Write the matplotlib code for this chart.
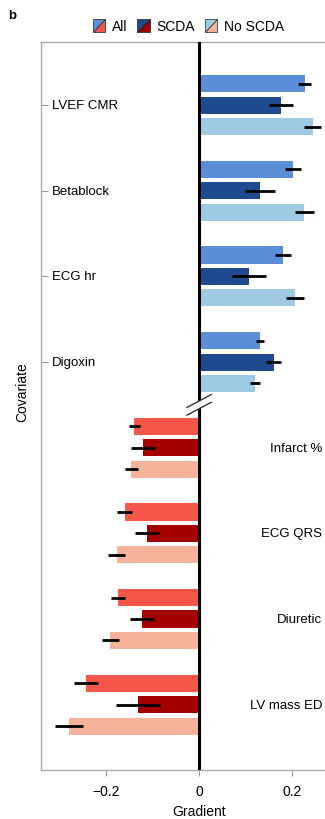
import matplotlib
matplotlib.use("Agg")
import matplotlib.pyplot as plt
import numpy as np
from matplotlib.legend_handler import HandlerBase
from matplotlib.patches import Polygon

plt.rcParams['font.family'] = ['Liberation Sans', 'DejaVu Sans']

#! --- Data --- !#
groups = ["LVEF CMR", "Betablock", "ECG hr", "Digoxin",
          "Infarct %", "ECG QRS", "Diuretic", "LV mass ED"]
series = ["All", "SCDA", "No SCDA"]

# gradient per group, one list per series
val_all = [0.227, 0.201, 0.180, 0.131, -0.139, -0.159, -0.173, -0.242]
val_scda = [0.176, 0.131, 0.107, 0.160, -0.120, -0.111, -0.123, -0.131]
val_noscda = [0.244, 0.226, 0.206, 0.120, -0.145, -0.177, -0.190, -0.279]

# error bar half-widths
err_all = [0.014, 0.017, 0.017, 0.009, 0.012, 0.016, 0.015, 0.026]
err_scda = [0.025, 0.032, 0.037, 0.016, 0.026, 0.026, 0.026, 0.048]
err_noscda = [0.018, 0.020, 0.019, 0.010, 0.014, 0.019, 0.019, 0.030]

blues = ["#5b8ed8", "#1f4a8f", "#9ecbe3"]
reds = ["#f4574a", "#a50000", "#f5b49a"]


class SplitSwatch:
    def __init__(self, c1, c2):
        self.c1, self.c2 = c1, c2


class HandlerSplit(HandlerBase):
    def create_artists(self, legend, orig_handle, xdescent, ydescent,
                       width, height, fontsize, trans):
        x0, y0 = -xdescent, -ydescent
        w = h = min(width, height)
        upper = Polygon([[x0, y0], [x0, y0 + h], [x0 + w, y0 + h]],
                        closed=True, facecolor=orig_handle.c1,
                        edgecolor="#222222", lw=0.5, transform=trans)
        lower = Polygon([[x0, y0], [x0 + w, y0], [x0 + w, y0 + h]],
                        closed=True, facecolor=orig_handle.c2,
                        edgecolor="#222222", lw=0.5, transform=trans)
        return [upper, lower]


fig = plt.figure(figsize=(3.25, 8.2), dpi=100)
ax = fig.add_axes([0.126, 0.0598, 0.874, 0.8878])

vals = [val_all, val_scda, val_noscda]
errs = [err_all, err_scda, err_noscda]
for g in range(len(groups)):
    for k in range(3):
        y = g * 4 + k
        v = vals[k][g]
        c = blues[k] if v > 0 else reds[k]
        ax.barh(y, v, height=0.8, color=c, zorder=2)
        ax.plot([v - errs[k][g], v + errs[k][g]], [y, y], color="black",
                lw=2, solid_capstyle="butt", zorder=3)

# group labels: positive on left, negative on right
for g, name in enumerate(groups):
    y = g * 4 + 1
    if vals[0][g] > 0:
        ax.text(0.039, y, name, transform=ax.get_yaxis_transform(),
                ha="left", va="center", fontsize=9.5)
    else:
        ax.text(0.99, y, name, transform=ax.get_yaxis_transform(),
                ha="right", va="center", fontsize=9.5)

ax.axvline(0, color="black", lw=2.2, zorder=4)
# axis break marks
ax.fill([-0.024, 0.024, 0.024, -0.024], [15.45, 14.85, 14.55, 15.15],
        color="white", zorder=5)
for dy in (-0.18, 0.18):
    ax.plot([-0.026, 0.026], [15.3 + dy, 14.7 + dy], color="#333333",
            lw=1.0, zorder=6, clip_on=False)

ax.set_xlim(-0.339, 0.27)
ax.set_ylim(32.05, -1.95)
ax.set_xticks([-0.2, 0, 0.2])
ax.set_xticklabels(["\u22120.2", "0", "0.2"])
ax.set_yticks([1, 5, 9, 13])
ax.set_yticklabels([])
ax.tick_params(axis="x", direction="out", length=4, color="#999999",
               labelsize=10, pad=6)
ax.tick_params(axis="y", direction="in", length=5, color="#999999")
for s in ["left", "top", "bottom"]:
    ax.spines[s].set_color("#aaaaaa")
    ax.spines[s].set_linewidth(1.0)
ax.spines["right"].set_visible(False)

ax.set_xlabel("Gradient", fontsize=10)
ax.xaxis.set_label_coords(0.339 / 0.609, -0.047)
ax.set_ylabel("Covariate", fontsize=10)
ax.yaxis.set_label_coords(-0.04, 0.52)

handles = [SplitSwatch(blues[i], reds[i]) for i in range(3)]
fig.legend(handles, series, handler_map={SplitSwatch: HandlerSplit()},
           loc="center", bbox_to_anchor=(0.58, 0.967), ncol=3,
           frameon=False, fontsize=10, handlelength=1.0, handleheight=1.0,
           handletextpad=0.4, columnspacing=0.7)

fig.text(0.025, 0.988, "b", fontsize=9.5, fontweight="bold", va="top")

plt.savefig("out.png", dpi=100)
